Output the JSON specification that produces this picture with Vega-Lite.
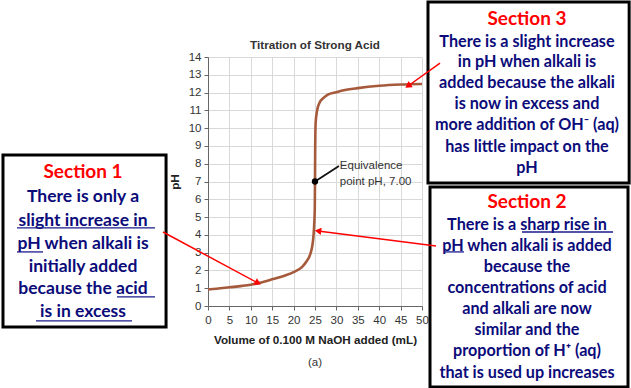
{
  "$schema": "https://vega.github.io/schema/vega-lite/v6.json",
  "autosize": {"type": "none"},
  "width": 214,
  "height": 249,
  "padding": {"left": 208, "top": 57, "right": 209, "bottom": 82},
  "background": "white",
  "config": {
    "view": {"stroke": null},
    "axis": {"grid": true, "gridColor": "#d9d9d9", "domainColor": "#666", "tickColor": "#666", "tickSize": 4,
      "labelFont": "Liberation Sans", "labelFontSize": 11.5, "labelColor": "#333", "labelOverlap": false, "labelFlush": false,
      "titleFont": "Liberation Sans", "titleFontSize": 11.7, "titleColor": "#222", "titleFontWeight": "bold"},
    "axisX": {"labelPadding": 4, "titlePadding": 9},
    "axisY": {"labelPadding": 3, "titlePadding": 8}
  },
  "resolve": {"axis": {"x": "independent", "y": "independent"}},
  "datasets": {
    "curve": [
      {"x": 0, "y": 0.93}, {"x": 2, "y": 0.97}, {"x": 5, "y": 1.05}, {"x": 8, "y": 1.13}, {"x": 10, "y": 1.2},
      {"x": 12, "y": 1.3}, {"x": 15, "y": 1.5}, {"x": 18, "y": 1.72}, {"x": 20, "y": 1.9}, {"x": 22, "y": 2.2},
      {"x": 23, "y": 2.5}, {"x": 24, "y": 3.0}, {"x": 24.5, "y": 3.6}, {"x": 24.8, "y": 4.5}, {"x": 24.95, "y": 5.5},
      {"x": 25, "y": 7}, {"x": 25.05, "y": 9}, {"x": 25.15, "y": 10.3}, {"x": 25.5, "y": 11.0}, {"x": 26, "y": 11.4},
      {"x": 27, "y": 11.7}, {"x": 28, "y": 11.88}, {"x": 30, "y": 12.02}, {"x": 32, "y": 12.14}, {"x": 35, "y": 12.25},
      {"x": 40, "y": 12.38}, {"x": 45, "y": 12.45}, {"x": 50, "y": 12.48}
    ],
    "equiv": [{"x": 25, "y": 7}],
    "leader": [{"x": 25, "y": 7, "x2": 30.6, "y2": 7.87}],
    "equivText": [
      {"x": 30.8, "y": 7.86, "t": "Equivalence"},
      {"x": 30.8, "y": 6.96, "t": "point pH, 7.00"}
    ],
    "chartTitle": [{"x": 25, "y": 14.67, "t": "Titration of Strong Acid"}],
    "boxes": [
      {"x": -47.9, "x2": -9.8, "y": 8.49, "y2": -1.18},
      {"x": 51.4, "x2": 98.4, "y": 17.09, "y2": 6.92},
      {"x": 51.87, "x2": 98.13, "y": 6.69, "y2": -4.55}
    ],
    "heads": [
      {"x": -29.2, "y": 7.53, "t": "Section 1"},
      {"x": 74.53, "y": 16.14, "t": "Section 3"},
      {"x": 74.53, "y": 5.85, "t": "Section 2"}
    ],
    "body1": [
      {"x": -29.2, "y": 6.13, "t": "There is only a"},
      {"x": -29.2, "y": 4.78, "t": "slight increase in"},
      {"x": -29.2, "y": 3.49, "t": "pH when alkali is"},
      {"x": -29.2, "y": 2.19, "t": "initially added"},
      {"x": -29.2, "y": 0.96, "t": "because the acid"},
      {"x": -29.2, "y": -0.34, "t": "is in excess"}
    ],
    "body": [
      {"x": 74.53, "y": 14.84, "t": "There is a slight increase"},
      {"x": 74.53, "y": 13.72, "t": "in pH when alkali is"},
      {"x": 74.53, "y": 12.54, "t": "added because the alkali"},
      {"x": 74.53, "y": 11.36, "t": "is now in excess and"},
      {"x": 74.53, "y": 10.18, "t": "more addition of OH⁻ (aq)"},
      {"x": 74.53, "y": 8.94, "t": "has little impact on the"},
      {"x": 74.53, "y": 7.76, "t": "pH"},
      {"x": 74.53, "y": 4.55, "t": "There is a sharp rise in"},
      {"x": 74.53, "y": 3.37, "t": "pH when alkali is added"},
      {"x": 74.53, "y": 2.19, "t": "because the"},
      {"x": 74.53, "y": 1.01, "t": "concentrations of acid"},
      {"x": 74.53, "y": -0.17, "t": "and alkali are now"},
      {"x": 74.53, "y": -1.35, "t": "similar and the"},
      {"x": 74.53, "y": -2.53, "t": "proportion of H⁺ (aq)"},
      {"x": 74.53, "y": -3.77, "t": "that is used up increases"}
    ],
    "underlines": [
      {"x": -44.63, "x2": -12.38, "y": 4.39},
      {"x": -44.63, "x2": -38.55, "y": 3.04},
      {"x": -21.26, "x2": -12.38, "y": 0.51},
      {"x": -40.19, "x2": -17.76, "y": -0.84},
      {"x": 73.36, "x2": 94.63, "y": 4.16},
      {"x": 55.14, "x2": 59.81, "y": 3.04}
    ],
    "arrows": [
      {"x": -10.51, "y": 4.16, "x2": 11.68, "y2": 1.29},
      {"x": 53.27, "y": 3.37, "x2": 25.7, "y2": 4.22},
      {"x": 54.21, "y": 13.66, "x2": 46.73, "y2": 12.37}
    ],
    "arrowheads": [
      {"x": 11.68, "y": 1.29, "a": 28.2},
      {"x": 25.7, "y": 4.22, "a": 187.2},
      {"x": 46.73, "y": 12.37, "a": 145.9}
    ],
    "caption": [{"x": 25, "y": -3.2, "t": "(a)"}]
  },
  "encoding": {
    "x": {"field": "x", "type": "quantitative", "scale": {"domain": [0, 50], "nice": false, "zero": false}, "axis": null},
    "y": {"field": "y", "type": "quantitative", "scale": {"domain": [0, 14], "nice": false, "zero": false}, "axis": null}
  },
  "layer": [
    {
      "data": {"name": "curve"},
      "mark": {"type": "line", "color": "#A65A3C", "strokeWidth": 2.6, "interpolate": "monotone"},
      "encoding": {
        "x": {"field": "x", "type": "quantitative", "scale": {"domain": [0, 50], "nice": false, "zero": false},
          "axis": {"title": "Volume of 0.100 M NaOH added (mL)", "values": [0,5,10,15,20,25,30,35,40,45,50]}},
        "y": {"field": "y", "type": "quantitative", "scale": {"domain": [0, 14], "nice": false, "zero": false},
          "axis": {"title": "pH", "values": [0,1,2,3,4,5,6,7,8,9,10,11,12,13,14]}}
      }
    },
    {
      "data": {"name": "chartTitle"},
      "mark": {"type": "text", "align": "center", "baseline": "middle", "font": "Liberation Sans", "fontWeight": "bold", "fontSize": 11.7, "color": "#333"},
      "encoding": {"text": {"field": "t"}}
    },
    {
      "data": {"name": "leader"},
      "mark": {"type": "rule", "color": "#111", "strokeWidth": 1.8},
      "encoding": {"x2": {"field": "x2"}, "y2": {"field": "y2"}}
    },
    {
      "data": {"name": "equiv"},
      "mark": {"type": "point", "filled": true, "color": "#000", "size": 40, "opacity": 1}
    },
    {
      "data": {"name": "equivText"},
      "mark": {"type": "text", "align": "left", "baseline": "middle", "font": "Liberation Sans", "fontSize": 11.5, "color": "#333"},
      "encoding": {"text": {"field": "t"}}
    },
    {
      "data": {"name": "caption"},
      "mark": {"type": "text", "align": "center", "baseline": "middle", "font": "Liberation Sans", "fontSize": 11.5, "color": "#333"},
      "encoding": {"text": {"field": "t"}}
    },
    {
      "data": {"name": "boxes"},
      "mark": {"type": "rect", "fill": "white", "stroke": "#000", "strokeWidth": 3},
      "encoding": {"x2": {"field": "x2"}, "y2": {"field": "y2"}}
    },
    {
      "data": {"name": "heads"},
      "mark": {"type": "text", "align": "center", "baseline": "middle", "font": "Lato", "fontWeight": "bold", "fontSize": 19, "color": "#FF0000"},
      "encoding": {"text": {"field": "t"}}
    },
    {
      "data": {"name": "body1"},
      "mark": {"type": "text", "align": "center", "baseline": "middle", "font": "Lato", "fontWeight": "bold", "fontSize": 17.5, "color": "#0B0B7A"},
      "encoding": {"text": {"field": "t"}}
    },
    {
      "data": {"name": "body"},
      "mark": {"type": "text", "align": "center", "baseline": "middle", "font": "Lato", "fontWeight": "bold", "fontSize": 16.2, "color": "#0B0B7A"},
      "encoding": {"text": {"field": "t"}}
    },
    {
      "data": {"name": "underlines"},
      "mark": {"type": "rule", "color": "#1A1A8C", "strokeWidth": 1.3},
      "encoding": {"x2": {"field": "x2"}}
    },
    {
      "data": {"name": "arrows"},
      "mark": {"type": "rule", "color": "#FF0000", "strokeWidth": 1.5},
      "encoding": {"x2": {"field": "x2"}, "y2": {"field": "y2"}}
    },
    {
      "data": {"name": "arrowheads"},
      "mark": {"type": "point", "shape": "triangle-right", "filled": true, "color": "#FF0000", "size": 55, "opacity": 1},
      "encoding": {"angle": {"field": "a", "type": "quantitative", "scale": null}}
    }
  ]
}
